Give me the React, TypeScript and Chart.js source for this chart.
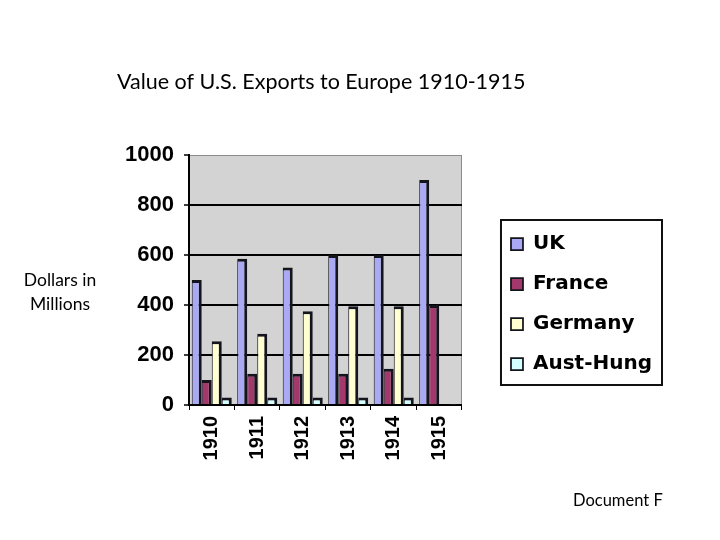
import React, { useEffect, useRef } from "react";
import { Chart, registerables } from "chart.js";

Chart.register(...registerables);

const categories = ["1910", "1911", "1912", "1913", "1914", "1915"];
const ukValues = [500, 585, 550, 600, 600, 900];
const franceValues = [100, 125, 125, 125, 145, 400];
const germanyValues = [255, 285, 375, 395, 395, 0];
const austHungValues = [30, 30, 30, 30, 30, 3];
const yTickValues = [0, 200, 400, 600, 800, 1000];
const seriesNames = ["UK", "France", "Germany", "Aust-Hung"];
const seriesColors = ["#aaaaf4", "#a3386c", "#ffffd2", "#d4ffff"];
const chartTitle = "Value of U.S. Exports to Europe 1910-1915";

const PAD = { left: 117, top: 60, right: 58, bottom: 70 };
const PLOT_TOP = 155;
const PLOT_BOTTOM = 405;
const PLOT_RIGHT = 462;
const TITLE_LINE = 26;

const plotBackground = {
  id: "plotBackground",
  beforeDraw(chart: any) {
    const { ctx, chartArea: a } = chart;
    ctx.save();
    ctx.fillStyle = "#d3d3d3";
    ctx.fillRect(a.left, a.top, a.right - a.left, a.bottom - a.top);
    ctx.strokeStyle = "#8c8c8c";
    ctx.lineWidth = 1;
    ctx.strokeRect(a.left + 0.5, a.top + 0.5, a.right - a.left - 1, a.bottom - a.top - 1);
    ctx.restore();
  },
};

const legendBorder = {
  id: "legendBorder",
  afterDraw(chart: any) {
    const lg = chart.legend;
    if (!lg || !lg.legendHitBoxes || !lg.legendHitBoxes.length) return;
    const hb = lg.legendHitBoxes;
    let l = Infinity, t = Infinity, r = -Infinity, b = -Infinity;
    hb.forEach((h: any) => {
      l = Math.min(l, h.left);
      t = Math.min(t, h.top);
      r = Math.max(r, h.left + h.width);
      b = Math.max(b, h.top + h.height);
    });
    const { ctx } = chart;
    ctx.save();
    ctx.strokeStyle = "#111";
    ctx.lineWidth = 2;
    ctx.strokeRect(l - 10, t - 14, r - l + 20, b - t + 25);
    ctx.restore();
  },
};

function BarChart() {
  const ref = useRef<HTMLCanvasElement | null>(null);
  useEffect(() => {
    if (!ref.current) return;
    const valueSets = [ukValues, franceValues, germanyValues, austHungValues];
    const chart = new Chart(ref.current, {
      type: "bar",
      data: {
        labels: categories,
        datasets: seriesNames.map((name, i) => ({
          label: name,
          data: valueSets[i],
          backgroundColor: seriesColors[i],
          borderColor: "#14141c",
          borderWidth: { top: 3, right: 3, left: 1, bottom: 0 },
          borderSkipped: "bottom",
          categoryPercentage: 0.88,
          barPercentage: 1.0,
          yAxisID: "y",
        })),
      },
      options: {
        responsive: false,
        animation: false,
        events: [],
        layout: { padding: PAD },
        plugins: {
          tooltip: { enabled: false },
          title: {
            display: true,
            text: chartTitle,
            fullSize: true,
            align: "start",
            color: "#000",
            font: { family: "Lato, 'Open Sans', sans-serif", size: 21.5, weight: "normal", lineHeight: TITLE_LINE / 21.5 },
            padding: { top: 9, bottom: PLOT_TOP - PAD.top - 9 - TITLE_LINE },
          },
          legend: {
            display: true,
            position: "right",
            align: "center",
            fullSize: false,
            maxWidth: 240,
            title: {
              display: true,
              text: " ",
              font: { size: 10, lineHeight: 1.2 },
              padding: { top: 36, bottom: 0 },
            },
            labels: {
              color: "#000",
              font: { family: "'DejaVu Sans', Verdana, sans-serif", weight: "bold", size: 20 },
              boxWidth: 12,
              boxHeight: 12,
              padding: 20,
            },
          },
        },
        scales: {
          x: {
            type: "category",
            grid: {
              display: true,
              offset: true,
              drawOnChartArea: false,
              drawTicks: true,
              tickLength: 5,
              tickColor: "#000",
              color: "#000",
            },
            border: { display: true, color: "#000", width: 2 },
            ticks: {
              color: "#000",
              minRotation: 90,
              maxRotation: 90,
              padding: 6,
              font: { family: "'Liberation Sans', Arial, sans-serif", weight: "bold", size: 20 },
            },
            afterFit: (s: any) => {
              s.height = 540 - PAD.bottom - PLOT_BOTTOM;
            },
          },
          y: {
            type: "linear",
            position: "left",
            min: 0,
            max: 1000,
            afterBuildTicks: (s: any) => {
              s.ticks = yTickValues.map((v) => ({ value: v }));
            },
            grid: {
              color: (c: any) =>
                c.tick && (c.tick.value === 0 || c.tick.value === 1000) ? "rgba(0,0,0,0)" : "#000",
              lineWidth: 2,
              tickColor: "#000",
              tickLength: 5,
              tickWidth: 1.5,
            },
            border: { display: true, color: "#000", width: 2 },
            ticks: {
              color: "#000",
              padding: 10,
              callback: (v: any) => String(v),
              font: { family: "'Liberation Sans', Arial, sans-serif", weight: "bold", size: 22 },
            },
            afterFit: (s: any) => {
              s.width = 189 - PAD.left;
            },
          },
          gap: {
            type: "linear",
            axis: "y",
            position: "right",
            display: true,
            grid: { display: false },
            ticks: { display: false },
            border: { display: false },
            afterFit: (s: any) => {
              const lg = s.chart.legend;
              const lw = lg && Number.isFinite(lg.width) ? lg.width : 165;
              const w = 720 - PAD.right - lw - PLOT_RIGHT;
              s.width = Number.isFinite(w) ? Math.max(0, Math.round(w)) : 20;
            },
          },
        },
      } as any,
      plugins: [plotBackground, legendBorder],
    });
    return () => chart.destroy();
  }, []);
  return <canvas ref={ref} width={720} height={540} style={{ display: "block", width: 720, height: 540 }} />;
}

export default function App() {
  const textFont = "Lato, 'Open Sans', sans-serif";
  return (
    <div style={{ position: "absolute", left: 0, top: 0, width: 720, height: 540, background: "#fff", overflow: "hidden" }}>
      <BarChart />
      <div
        style={{
          position: "absolute",
          left: 10,
          top: 268,
          width: 100,
          textAlign: "center",
          fontFamily: textFont,
          fontSize: 17.5,
          lineHeight: "24px",
          color: "#000",
        }}
      >
        Dollars in
        <br />
        Millions
      </div>
      <div
        style={{
          position: "absolute",
          left: 573,
          top: 489,
          fontFamily: textFont,
          fontSize: 16.5,
          lineHeight: "22px",
          color: "#000",
          whiteSpace: "nowrap",
        }}
      >
        Document F
      </div>
    </div>
  );
}
